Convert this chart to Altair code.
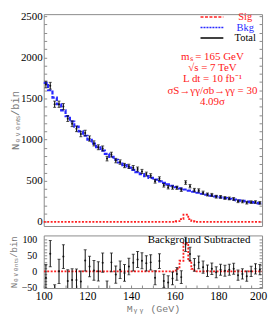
import altair as alt
import pandas as pd

# ---------------- data ----------------
centers = list(range(101, 200, 2))  # 2 GeV bin centres
bkg = [1690, 1600, 1510, 1430, 1355, 1285, 1220, 1158, 1100, 1047,
       998, 951, 907, 866, 827, 790, 755, 722, 690, 660,
       632, 605, 580, 556, 534, 513, 493, 474, 456, 439,
       423, 408, 394, 380, 367, 354, 342, 331, 320, 309,
       299, 289, 280, 271, 262, 256, 248, 240, 233, 226]
resid = [-20, 55, -80, 0, 46, -30, -27, -27, -32, 34,
         15, 3, 0, 27, -58, 28, -10, 5, -5, 15,
         27, 37, 33, 25, 28, -20, 32, -30, -35, -22,
         -8, -18, 84, 54, 20, 28, 13, 2, 8, -3,
         5, 2, 5, 8, -12, -8, -15, 0, 8, 5]
err = [41, 41, 38, 38, 37, 35, 35, 34, 33, 33,
       32, 31, 30, 30, 28, 29, 27, 27, 26, 26,
       26, 25, 25, 24, 24, 22, 23, 21, 21, 20,
       20, 20, 22, 21, 20, 20, 19, 18, 18, 17,
       17, 17, 17, 17, 16, 16, 16, 16, 16, 16]
edges = list(range(100, 201, 2))
sig_edges = [100, 160.5, 162.2, 164.0, 166.2, 167.6, 169.0, 200]
sig_vals = [0, 8, 33, 88, 33, 8, 0, 0]

legend_labels = ["Sig", "Bkg", "Total"]
legend_colors = ["#ff2020", "#2828ff", "#000000"]
annot = ["m\u209b = 165 GeV", "\u221as  = 7 TeV", "L dt = 10 fb\u207b\u00b9",
         "\u03c3S\u2192\u03b3\u03b3/\u03c3b\u2192\u03b3\u03b3 = 30", "4.09\u03c3"]

# ---------------- tables ----------------
pts = pd.DataFrame({"m": centers, "bkg": bkg, "resid": resid, "err": err})
pts["data"] = pts["bkg"] + pts["resid"]
pts["lo"] = pts["data"] - pts["err"]
pts["hi"] = pts["data"] + pts["err"]
pts["rlo"] = pts["resid"] - pts["err"]
pts["rhi"] = pts["resid"] + pts["err"]
bstep = pd.DataFrame({"m": edges, "v": bkg + [bkg[-1]]})
sstep = pd.DataFrame({"m": sig_edges, "v": sig_vals})
one = pd.DataFrame({"a": [0]})

W, H1, H2 = 220, 213.5, 53
GRAY = "#8c8c8c"
SERIF = "Liberation Serif"
MONO = "Liberation Mono"
RED = "#ff2020"
BLUE = "#2828ff"
TS = 3  # inward tick length

xs = alt.Scale(domain=[100, 200], nice=False, zero=False)
ys1 = alt.Scale(domain=[-50, 2525], nice=False, zero=False)
ys2 = alt.Scale(domain=[-52, 112], nice=False, zero=False)

ax_top_left = alt.Axis(values=list(range(0, 2501, 100)), labelExpr="datum.value % 500 === 0 ? datum.label : ''",
                       tickSize=TS, offset=-TS, tickColor=GRAY, domain=False, grid=False,
                       labelFont=SERIF, labelFontSize=11, labelColor="black", labelPadding=1.5,
                       labelOverlap=False, format="d",
                       title="N\u2091\u1d65\u2091\u2099\u209c\u209b/bin", titleFont=MONO, titleFontSize=10.5,
                       titleFontWeight="normal", titleColor="#777777", titlePadding=0)
ax_top_right = alt.Axis(orient="right", values=list(range(0, 2501, 100)), labels=False,
                        tickSize=TS, offset=-TS, tickColor=GRAY, domain=False, grid=False, title=None)
ax_bot_left = alt.Axis(values=list(range(-50, 101, 10)), labelExpr="datum.value % 50 === 0 ? datum.label : ''",
                       tickSize=TS, offset=-TS, tickColor=GRAY, domain=False, grid=False,
                       labelFont=SERIF, labelFontSize=10, labelColor="black", labelPadding=7,
                       labelOverlap=False, format="d",
                       title="N\u2091\u1d65\u2091\u2099\u209c\u209b/bin", titleFont=MONO, titleFontSize=9,
                       titleFontWeight="normal", titleColor="#777777", titlePadding=3)
ax_bot_right = alt.Axis(orient="right", values=list(range(-50, 101, 10)), labels=False,
                        tickSize=TS, offset=-TS, tickColor=GRAY, domain=False, grid=False, title=None)
ax_x = alt.Axis(values=list(range(100, 201, 5)), labelExpr="datum.value % 20 === 0 ? datum.label : ''",
                tickSize=TS, offset=-TS, tickColor=GRAY, domain=False, grid=False,
                labelFont=SERIF, labelFontSize=11.5, labelColor="black", labelPadding=3,
                labelOffset={"condition": {"test": "datum.value === 200", "value": -4}, "value": 0},
                labelOverlap=False, labelFlush=False, format="d",
                title="M\u1d67\u1d67  (GeV)", titleFont=MONO, titleFontSize=10, titleFontWeight="normal",
                titleColor="#777777", titlePadding=1)

X = alt.X("m:Q", scale=xs, axis=None)

# ---------------- top panel ----------------
t_bkg = alt.Chart(bstep).mark_line(interpolate="step-after", color=BLUE, strokeWidth=2.2,
                                   strokeDash=[4, 1.5]).encode(x=X, y=alt.Y("v:Q", scale=ys1, axis=ax_top_left))
t_sig = alt.Chart(sstep).mark_line(interpolate="step-after", color=RED, strokeWidth=1.8,
                                   strokeDash=[2, 1.5]).encode(x=X, y=alt.Y("v:Q", scale=ys1, axis=ax_top_right))
t_bar = alt.Chart(pts).mark_rule(color="#111", strokeWidth=1).encode(
    x=X, y=alt.Y("lo:Q", scale=ys1, axis=None), y2="hi:Q")
t_cap1 = alt.Chart(pts).mark_tick(color="#111", orient="horizontal", size=3, thickness=1).encode(
    x=X, y=alt.Y("lo:Q", scale=ys1, axis=None))
t_cap2 = alt.Chart(pts).mark_tick(color="#111", orient="horizontal", size=3, thickness=1).encode(
    x=X, y=alt.Y("hi:Q", scale=ys1, axis=None))
t_dot = alt.Chart(pts).mark_circle(color="#111", size=4, opacity=1).encode(
    x=X, y=alt.Y("data:Q", scale=ys1, axis=None))

leg_y = [3, 13.5, 24]
leg_dash = [[3, 1.5], [2, 1], [1, 0]]
leg_layers = []
for i, lab in enumerate(legend_labels):
    leg_layers.append(alt.Chart(one).mark_rule(color=legend_colors[i], strokeWidth=1.5,
                                               strokeDash=leg_dash[i]).encode(
        x=alt.value(158), x2=alt.value(181), y=alt.value(leg_y[i])))
    leg_layers.append(alt.Chart(one).mark_text(color=legend_colors[i], font=SERIF, fontSize=10.5,
                                               align="center", baseline="middle").encode(
        x=alt.value(203), y=alt.value(leg_y[i]), text=alt.value(lab)))

ann_y = [43.5, 54.5, 65.5, 77, 88.5]
ann_layers = []
for i, line in enumerate(annot):
    ann_layers.append(alt.Chart(one).mark_text(color=RED, font=SERIF, fontSize=11,
                                               align="center", baseline="middle").encode(
        x=alt.value(170), y=alt.value(ann_y[i]), text=alt.value(line)))

top = alt.layer(t_sig, t_bkg, t_bar, t_cap1, t_cap2, t_dot, *leg_layers, *ann_layers).resolve_axis(
    y="independent").properties(width=W, height=H1)

# ---------------- bottom panel ----------------
XB = alt.X("m:Q", scale=xs, axis=ax_x)
b_sig = alt.Chart(sstep).mark_line(interpolate="step-after", color=RED, strokeWidth=1.8,
                                   strokeDash=[2, 1.5], clip=True).encode(
    x=XB, y=alt.Y("v:Q", scale=ys2, axis=ax_bot_left))
b_r = alt.Chart(pts).mark_rule(color="#111", strokeWidth=1, clip=True).encode(
    x=XB, y=alt.Y("rlo:Q", scale=ys2, axis=ax_bot_right), y2="rhi:Q")
b_c1 = alt.Chart(pts).mark_tick(color="#111", orient="horizontal", size=3, thickness=1, clip=True).encode(
    x=XB, y=alt.Y("rlo:Q", scale=ys2, axis=None))
b_c2 = alt.Chart(pts).mark_tick(color="#111", orient="horizontal", size=3, thickness=1, clip=True).encode(
    x=XB, y=alt.Y("rhi:Q", scale=ys2, axis=None))
b_dot = alt.Chart(pts).mark_circle(color="#111", size=4, opacity=1, clip=True).encode(
    x=XB, y=alt.Y("resid:Q", scale=ys2, axis=None))
b_txt = alt.Chart(one).mark_text(color="black", font=SERIF, fontSize=11, align="center",
                                 baseline="middle").encode(
    x=alt.value(156.5), y=alt.value(5), text=alt.value("Background Subtracted"))

bottom = alt.layer(b_sig, b_r, b_c1, b_c2, b_dot, b_txt).resolve_axis(y="independent").properties(
    width=W, height=H2)

chart = alt.vconcat(top, bottom, spacing=6).configure(
    padding={"left": 0, "top": 0, "right": 0, "bottom": 0}
).configure_view(stroke=GRAY, strokeWidth=1)

chart.save("out.html", embed_options={"renderer": "svg", "actions": False})
